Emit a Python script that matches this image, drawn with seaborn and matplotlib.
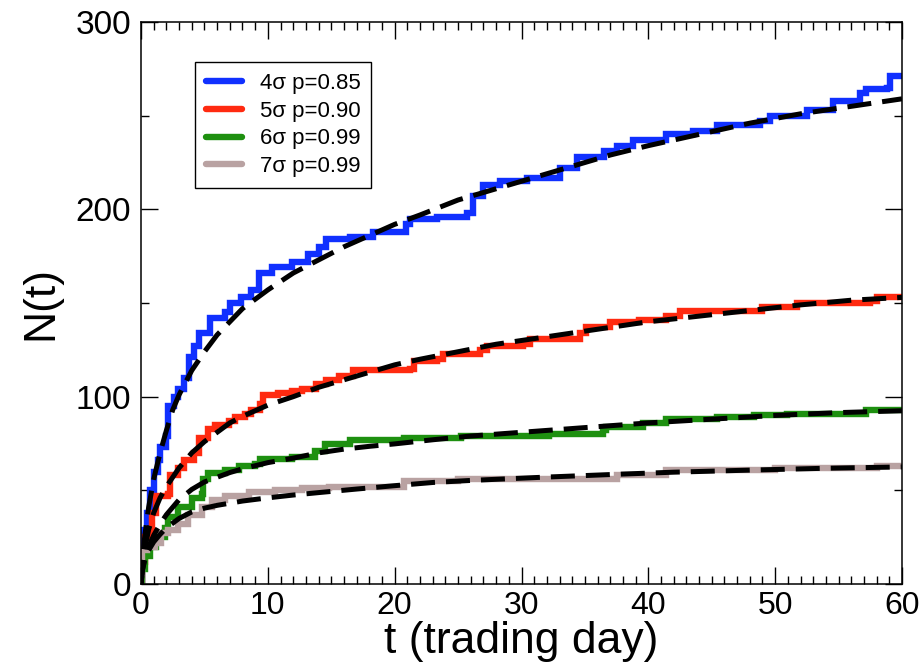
import matplotlib
matplotlib.use("Agg")
import matplotlib.pyplot as plt
from matplotlib.ticker import MultipleLocator
import seaborn as sns
import pandas as pd

# ---------------- data ----------------
labels = ["4\u03c3 p=0.85", "5\u03c3 p=0.90", "6\u03c3 p=0.99", "7\u03c3 p=0.99"]
colors = ["#1030ff", "#ff2a10", "#1e9010", "#b9a2a2"]

blue_t = [0, 0.1, 0.2, 0.5, 0.7, 1.0, 1.3, 1.5, 2.0, 2.15, 2.6, 2.9, 3.4, 3.8, 4.2, 4.6,
          5.4, 6.6, 7.0, 7.9, 8.7, 9.3, 10.3, 11.9, 13.2, 14.0, 14.6, 16.5, 18.3, 20.9,
          21.2, 23.3, 25.7, 26.2, 27.0, 28.3, 30.4, 33.0, 34.4, 36.5, 37.5, 38.8, 41.4,
          43.5, 45.4, 48.8, 49.6, 52.5, 54.6, 56.7, 57.2, 58.8, 59.05, 60]
blue_n = [0, 15, 29, 38, 50, 60, 66, 73, 79, 95, 100, 104, 110, 121, 127, 134,
          142, 145, 150, 153, 157, 166, 169, 172, 176, 180, 184, 185, 188, 192,
          195, 196, 198, 207, 213, 215, 217, 222, 228, 231, 234, 237, 240,
          242, 245, 247, 250, 253, 258, 262, 264, 265, 271, 271]

red_t = [0, 0.1, 0.3, 0.9, 1.2, 2.1, 2.25, 2.9, 3.4, 4.2, 4.6, 5.3, 5.8, 6.9, 7.4, 8.2,
         8.7, 9.4, 9.6, 10.8, 11.9, 12.7, 13.8, 14.6, 15.6, 16.7, 21.2, 21.5, 23.3, 23.8,
         26.7, 27.3, 30.1, 30.7, 34.6, 35.1, 37.0, 39.3, 41.4, 42.5, 49.0, 51.7, 57.5,
         58.0, 60]
red_n = [0, 12, 25, 38, 47, 48, 58, 62, 66, 70, 78, 83, 85, 87, 89, 91,
         93, 96, 101, 102, 103, 104, 107, 109, 111, 114, 115, 119, 120, 123,
         125, 127, 128, 131, 134, 137, 140, 141, 143, 146, 148, 150, 151,
         153, 153]

green_t = [0, 0.1, 0.3, 0.7, 1.2, 1.9, 2.15, 2.9, 4.0, 4.8, 4.9, 5.3, 6.6, 7.7, 9.0, 9.4,
           11.9, 13.7, 14.5, 16.5, 20.7, 25.2, 32.2, 36.4, 36.7, 39.6, 41.4, 45.4, 48.3,
           50.9, 57.2, 60]
green_n = [0, 8, 15, 20, 25, 30, 36, 41, 46, 48, 56, 59, 61, 63, 64, 67,
           68, 71, 75, 77, 78, 79, 80, 82, 84, 86, 88, 89, 90,
           91, 93, 93]

gray_t = [0, 0.03, 0.05, 0.5, 1.1, 1.6, 2.1, 2.9, 3.7, 4.8, 5.6, 6.6, 8.5, 10.6, 12.7,
          14.8, 20.7, 25.0, 37.5, 41.4, 50.0, 58.0, 60]
gray_n = [0, 6, 18, 20, 22, 27, 29, 32, 37, 41, 45, 47, 49, 50, 51,
          52, 55, 56, 58, 61, 62, 63, 63]

blue_fit_t = [0, 0.1, 0.3, 0.6, 1.0, 1.5, 2.0, 2.5, 3.0, 4.0, 5.0, 6.0, 7.0, 8.0, 9.0, 10,
              12, 14, 16, 18, 20, 22, 25, 28, 31, 34, 37, 40, 44, 48, 52, 56, 60]
blue_fit_n = [0, 12, 26, 41, 56, 70, 82, 93, 101, 114, 124, 133, 140, 147, 152, 157,
              166, 173, 180, 186, 192, 197, 205, 211, 217, 223, 229, 234, 240, 246, 251, 255, 259]

red_fit_t = [0, 0.1, 0.3, 0.6, 1.0, 1.5, 2.0, 3.0, 4.0, 5.0, 6.0, 7.0, 8.0, 9.0, 10, 12,
             14, 16, 18, 20, 22, 25, 28, 31, 34, 37, 40, 44, 48, 52, 56, 60]
red_fit_n = [0, 9, 19, 29, 38, 46, 52, 62, 70, 76, 81, 86, 89.5, 92.5, 95.5, 100,
             105, 109, 113, 117, 120, 124, 128, 131, 134, 137, 140, 143, 146, 149, 151.5, 153]

green_fit_t = [0, 0.1, 0.3, 0.6, 1.0, 1.5, 2.0, 3.0, 4.0, 5.0, 6.0, 7.0, 8.0, 10, 12, 14,
               16, 18, 20, 23, 26, 29, 32, 36, 40, 45, 50, 55, 60]
green_fit_n = [0, 7, 14, 20, 26, 32, 37, 45, 50.5, 54.5, 57, 59.5, 61.5, 64.8, 67.2, 70,
               72, 73.5, 74.8, 77, 79, 80.5, 82, 84, 86, 88, 90, 91.5, 92.5]

gray_fit_t = [0, 0.1, 0.3, 0.6, 1.0, 1.5, 2.0, 3.0, 4.0, 5.0, 6.0, 8.0, 10, 12, 14, 17,
              20, 23, 26, 29, 32, 35, 38, 42, 48, 54, 60]
gray_fit_n = [0, 7, 13, 18, 22.5, 26.5, 30, 35, 38.5, 40.5, 42, 44.3, 46, 47.5, 48.8, 50.7,
              52.5, 54.2, 55.3, 56.2, 57.1, 57.9, 58.7, 59.7, 60.8, 61.8, 62.5]

x_ticks = [0, 10, 20, 30, 40, 50, 60]
y_ticks = [0, 100, 200, 300]
x_label = "t (trading day)"
y_label = "N(t)"

# ---------------- style ----------------
sns.set_theme(style="ticks")
plt.rcParams["font.family"] = ["Liberation Sans", "DejaVu Sans"]
plt.rcParams["text.color"] = "black"
plt.rcParams["axes.labelcolor"] = "black"
plt.rcParams["xtick.color"] = "black"
plt.rcParams["ytick.color"] = "black"

fig = plt.figure(figsize=(9.2, 6.67), dpi=100)
ax = fig.add_axes([0.1533, 0.1244, 0.8271, 0.8426])

series = [(blue_t, blue_n), (red_t, red_n), (green_t, green_n), (gray_t, gray_n)]
fits = [(blue_fit_t, blue_fit_n), (red_fit_t, red_fit_n),
        (green_fit_t, green_fit_n), (gray_fit_t, gray_fit_n)]

for (t, n), c, lab in zip(series, colors, labels):
    df = pd.DataFrame({"t": t, "N": n})
    sns.lineplot(data=df, x="t", y="N", ax=ax, color=c, lw=4.6,
                 drawstyle="steps-post", estimator=None, label=lab,
                 solid_joinstyle="miter")

for t, n in fits:
    df = pd.DataFrame({"t": t, "N": n})
    sns.lineplot(data=df, x="t", y="N", ax=ax, color="black", lw=3.6,
                 estimator=None, legend=False)
    ax.lines[-1].set_dashes((4.8, 2.2))
    ax.lines[-1].set_dash_capstyle("butt")

ax.set_xlim(0, 60)
ax.set_ylim(0, 300)
ax.set_xticks(x_ticks)
ax.set_yticks(y_ticks)
ax.xaxis.set_minor_locator(MultipleLocator(1))
ax.yaxis.set_minor_locator(MultipleLocator(50))
ax.tick_params(which="both", direction="in", top=True, right=True,
               color="black", labelcolor="black", width=1.0)
ax.tick_params(which="major", length=12)
ax.tick_params(which="minor", length=6)
ax.tick_params(axis="y", which="major", labelsize=24, pad=7)
ax.tick_params(axis="x", which="major", labelsize=23, pad=5)
for sp in ax.spines.values():
    sp.set_color("black")
    sp.set_linewidth(1.1)

ax.set_xlabel(x_label, fontsize=32, labelpad=0, color="black")
ax.set_ylabel(y_label, fontsize=32, labelpad=10, color="black")

leg = ax.legend(loc="upper left", bbox_to_anchor=(0.071, 0.929), borderaxespad=0,
                fontsize=16, frameon=True, fancybox=False, handlelength=1.6,
                handletextpad=0.8, labelspacing=0.3, borderpad=0.5)
leg.get_frame().set_edgecolor("black")
leg.get_frame().set_linewidth(1.0)
leg.get_frame().set_alpha(1)
for txt in leg.get_texts():
    txt.set_color("black")
for h in leg.get_lines():
    h.set_linewidth(4.6)

fig.savefig("out.png", dpi=100)
